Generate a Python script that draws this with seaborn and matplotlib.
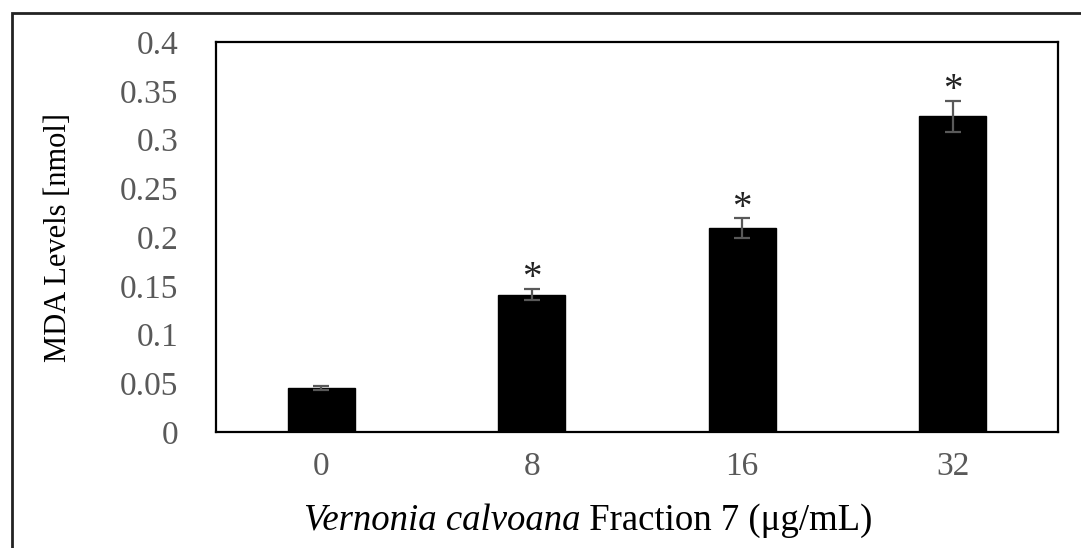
import matplotlib
matplotlib.use("Agg")
import matplotlib.pyplot as plt
import seaborn as sns
import pandas as pd
from matplotlib.patches import Rectangle

# Data
categories = ["0", "8", "16", "32"]
mda_levels = [0.045, 0.141, 0.209, 0.324]
errors = [0.002, 0.006, 0.010, 0.016]
significant = [False, True, True, True]
y_ticks = [0, 0.05, 0.1, 0.15, 0.2, 0.25, 0.3, 0.35, 0.4]
y_tick_labels = ["0", "0.05", "0.1", "0.15", "0.2", "0.25", "0.3", "0.35", "0.4"]

sns.set_theme(style="white")
plt.rcParams["font.family"] = ["Liberation Serif", "DejaVu Serif"]

df = pd.DataFrame({"conc": categories, "mda": mda_levels})

fig = plt.figure(figsize=(10.81, 5.48), dpi=100)
ax = fig.add_axes([216 / 1081, 1 - 432 / 548, (1058 - 216) / 1081, (432 - 42) / 548])

sns.barplot(data=df, x="conc", y="mda", color="black", width=0.32,
            errorbar=None, saturation=1, ax=ax, edgecolor="black")

ax.errorbar(range(len(categories)), mda_levels, yerr=errors, fmt="none",
            ecolor="#595959", elinewidth=1.6, capsize=5.5, capthick=1.6, zorder=5)

for i, (v, e, s) in enumerate(zip(mda_levels, errors, significant)):
    if s:
        ax.annotate("*", xy=(i, v + e), xytext=(0, 0.5), textcoords="offset points",
                    ha="center", va="baseline", fontsize=28, color="#222222")

ax.set_ylim(0, 0.4)
ax.set_xlim(-0.5, 3.5)
ax.set_yticks(y_ticks)
ax.set_yticklabels(y_tick_labels)
ax.tick_params(axis="both", length=0, labelsize=24, colors="#595959")
ax.tick_params(axis="y", pad=27)
ax.tick_params(axis="x", pad=14)

for sp in ax.spines.values():
    sp.set_visible(True)
    sp.set_color("black")
    sp.set_linewidth(1.6)

ax.set_xlabel("")
ax.set_ylabel("")
fig.text(59 / 1081, 1 - 238 / 548, "MDA Levels [nmol]", fontsize=22,
         color="black", rotation=90, ha="center", va="center")

# x label composed as real text pieces (italic species name + upright rest)
t1 = fig.text(0, 1 - 521 / 548, "Vernonia calvoana", fontsize=26.5, style="italic",
              color="black", va="center", ha="left")
t2 = fig.text(0, 1 - 521 / 548, " Fraction 7 (μg/mL)", fontsize=26.5,
              color="black", va="center", ha="left")
fig.canvas.draw()
r = fig.canvas.get_renderer()
w1 = t1.get_window_extent(r).width
w2 = t2.get_window_extent(r).width
x0 = 588 - (w1 + w2) / 2
t1.set_x(x0 / 1081)
t2.set_x((x0 + w1) / 1081)

fig.patches.append(Rectangle((12 / 1081, -0.2), 1.2, 1.2 - 13 / 548,
                             transform=fig.transFigure, fill=False,
                             edgecolor="#222222", linewidth=2.0))

fig.savefig("out.png", dpi=100)
